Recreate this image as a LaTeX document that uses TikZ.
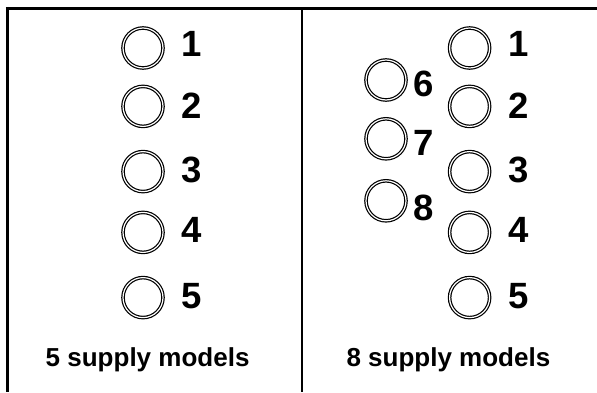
\documentclass[tikz,border=0pt]{standalone}
\usepackage{fontspec}
\setmainfont{Liberation Sans}
\usepackage{tikz}

\begin{document}
\begin{tikzpicture}[
            ring/.style={circle, draw=black, double=white, line width=.3mm, double distance=.3mm, inner sep=0pt, minimum size=1cm},
            num/.style={font=\fontsize{26}{31}\selectfont\bfseries, inner sep=0pt, anchor=west},
            caption/.style={font=\fontsize{18.5}{22}\selectfont\bfseries, inner sep=0pt, anchor=base},
        ]
            \useasboundingbox (0, 0) rectangle (14.925, 9.8);

            % frame and divider
            \draw[line width=.75mm] (0.15, 9.59) -- (14.925, 9.59);
            \draw[line width=.75mm] (0.19, 9.63) -- (0.19, 0);
            \draw[line width=.3mm] (7.55, 9.55) -- (7.55, 0);

            % 5 supply models
            \node[ring] (a1) at (3.575, 8.6)  {}; \node[num] (la1) at (4.525, 8.7)  {1};
            \node[ring] (a2) at (3.575, 7.14) {}; \node[num] (la2) at (4.525, 7.15) {2};
            \node[ring] (a3) at (3.575, 5.51) {}; \node[num] (la3) at (4.525, 5.56) {3};
            \node[ring] (a4) at (3.575, 3.99) {}; \node[num] (la4) at (4.525, 4.05) {4};
            \node[ring] (a5) at (3.575, 2.36) {}; \node[num] (la5) at (4.525, 2.39) {5};
            \node[caption] (capa) at (3.69, 0.65) {5 supply models};

            % 8 supply models
            \node[ring] (b1) at (11.74, 8.6)  {}; \node[num] (lb1) at (12.7, 8.7)  {1};
            \node[ring] (b2) at (11.74, 7.14) {}; \node[num] (lb2) at (12.7, 7.15) {2};
            \node[ring] (b3) at (11.74, 5.51) {}; \node[num] (lb3) at (12.7, 5.56) {3};
            \node[ring] (b4) at (11.74, 3.99) {}; \node[num] (lb4) at (12.7, 4.05) {4};
            \node[ring] (b5) at (11.74, 2.36) {}; \node[num] (lb5) at (12.7, 2.39) {5};
            \node[ring] (b6) at (9.65, 7.8)   {}; \node[num] (lb6) at (10.33, 7.7) {6};
            \node[ring] (b7) at (9.65, 6.33)  {}; \node[num] (lb7) at (10.33, 6.23) {7};
            \node[ring] (b8) at (9.65, 4.78)  {}; \node[num] (lb8) at (10.33, 4.59) {8};
            \node[caption] (capb) at (11.21, 0.65) {8 supply models};
        \end{tikzpicture}
\end{document}
